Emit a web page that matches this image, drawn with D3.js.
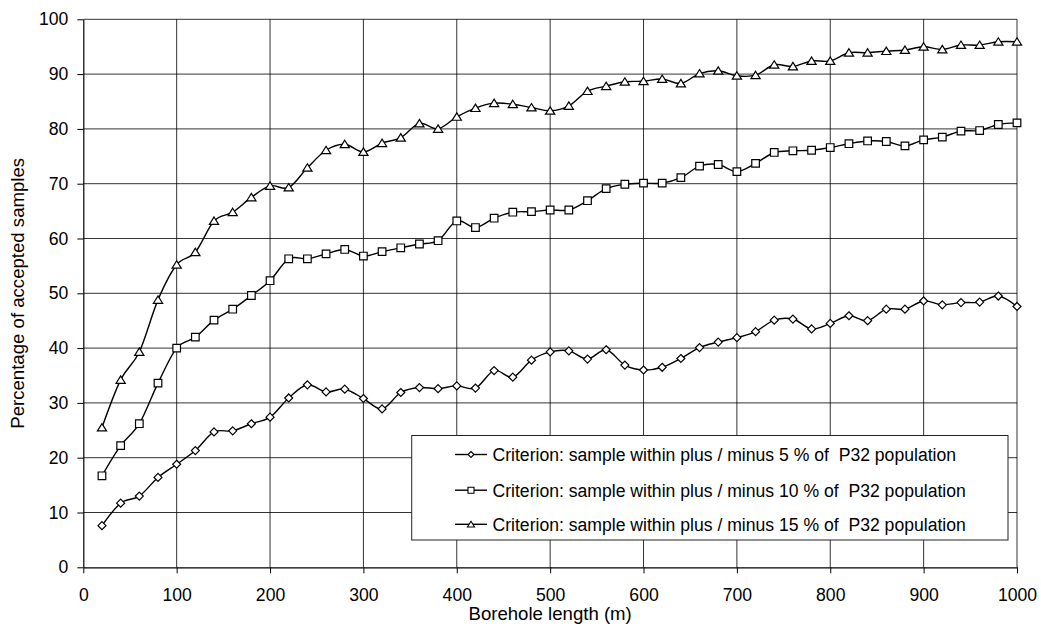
<!DOCTYPE html>
<html>
<head>
<meta charset="utf-8">
<script src="https://cdn.jsdelivr.net/npm/d3@7"></script>
<style>
  html, body { margin: 0; padding: 0; background: #fff; }
  svg { display: block; }
  text { font-family: "Liberation Sans", Arial, Helvetica, sans-serif; fill: #000; }
</style>
</head>
<body>
<svg id="chart" width="1041" height="626"></svg>
<script>
// Borehole lengths (m) at which acceptance was evaluated
const boreholeLength = [
  20, 40, 60, 80, 100, 120, 140, 160, 180, 200,
  220, 240, 260, 280, 300, 320, 340, 360, 380, 400,
  420, 440, 460, 480, 500, 520, 540, 560, 580, 600,
  620, 640, 660, 680, 700, 720, 740, 760, 780, 800,
  820, 840, 860, 880, 900, 920, 940, 960, 980, 1000
];

// Percentage of accepted samples, criterion +/- 5 %
const within5 = [
  7.6, 11.7, 13.0, 16.4, 18.8, 21.3, 24.7, 24.9, 26.2, 27.4,
  30.9, 33.3, 32.0, 32.5, 30.8, 28.9, 31.9, 32.8, 32.6, 33.1,
  32.7, 35.9, 34.7, 37.8, 39.3, 39.5, 38.0, 39.7, 36.9, 36.0,
  36.5, 38.1, 40.1, 41.1, 41.9, 43.0, 45.1, 45.3, 43.5, 44.5,
  45.9, 45.0, 47.1, 47.1, 48.6, 47.9, 48.3, 48.4, 49.5, 47.6
];

// Percentage of accepted samples, criterion +/- 10 %
const within10 = [
  16.7, 22.2, 26.2, 33.6, 40.0, 42.0, 45.1, 47.1, 49.6, 52.3,
  56.3, 56.3, 57.2, 58.0, 56.8, 57.6, 58.3, 59.0, 59.6, 63.2,
  62.0, 63.7, 64.8, 64.9, 65.2, 65.2, 66.9, 69.1, 69.9, 70.1,
  70.1, 71.1, 73.2, 73.5, 72.2, 73.7, 75.7, 76.0, 76.1, 76.6,
  77.3, 77.8, 77.7, 76.9, 78.0, 78.5, 79.6, 79.7, 80.8, 81.1
];

// Percentage of accepted samples, criterion +/- 15 %
const within15 = [
  25.5, 34.2, 39.3, 48.8, 55.2, 57.5, 63.2, 64.8, 67.5, 69.6,
  69.3, 72.9, 76.1, 77.2, 75.8, 77.4, 78.4, 81.0, 80.0, 82.2,
  83.8, 84.7, 84.5, 83.9, 83.3, 84.2, 86.9, 87.8, 88.6, 88.7,
  89.1, 88.3, 90.1, 90.6, 89.7, 89.8, 91.7, 91.4, 92.4, 92.4,
  93.9, 93.9, 94.2, 94.4, 95.0, 94.5, 95.3, 95.3, 95.9, 95.9
];

const seriesNames = [
  "Criterion: sample within plus / minus 5 % of  P32 population",
  "Criterion: sample within plus / minus 10 % of  P32 population",
  "Criterion: sample within plus / minus 15 % of  P32 population"
];
const seriesMarkers = ["diamond", "square", "triangle"];

const xTicks = [0, 100, 200, 300, 400, 500, 600, 700, 800, 900, 1000];
const yTicks = [0, 10, 20, 30, 40, 50, 60, 70, 80, 90, 100];

const xTitle = "Borehole length (m)";
const yTitle = "Percentage of accepted samples";

// ---- layout ----
const svg = d3.select("#chart");
const plot = { left: 83.3, right: 1017, top: 19.3, bottom: 567.3 };

const x = d3.scaleLinear().domain([0, 1000]).range([plot.left, plot.right]);
const y = d3.scaleLinear().domain([0, 100]).range([plot.bottom, plot.top]);

// grid lines
const grid = svg.append("g").attr("stroke", "#000").attr("stroke-width", 1);
grid.selectAll("line.h").data(yTicks.filter(d => d > 0)).join("line")
  .attr("class", "h")
  .attr("x1", plot.left).attr("x2", plot.right)
  .attr("y1", d => y(d)).attr("y2", d => y(d))
  .attr("stroke-opacity", 0.8);
grid.selectAll("line.v").data(xTicks.filter(d => d > 0)).join("line")
  .attr("class", "v")
  .attr("y1", plot.top).attr("y2", plot.bottom)
  .attr("x1", d => x(d)).attr("x2", d => x(d))
  .attr("stroke-opacity", 0.8);

// axes
const fontSize = 17.6;
const xAxis = svg.append("g")
  .attr("transform", `translate(0,${plot.bottom})`)
  .call(d3.axisBottom(x).tickValues(xTicks).tickSize(6).tickSizeOuter(0).tickPadding(15).tickFormat(d3.format("d")));
const yAxis = svg.append("g")
  .attr("transform", `translate(${plot.left},0)`)
  .call(d3.axisLeft(y).tickValues(yTicks).tickSize(6).tickSizeOuter(0).tickPadding(9).tickFormat(d3.format("d")));

[xAxis, yAxis].forEach(g => {
  g.select(".domain").attr("stroke", "#000").attr("stroke-width", 1.2);
  g.selectAll(".tick line").attr("stroke", "#000").attr("stroke-width", 1);
  g.selectAll(".tick text")
    .attr("fill", "#000")
    .style("font-family", "'Liberation Sans', Arial, sans-serif")
    .style("font-size", fontSize + "px");
});

// axis titles
svg.append("text")
  .attr("x", (plot.left + plot.right) / 2)
  .attr("y", 620)
  .attr("text-anchor", "middle")
  .style("font-size", "18.6px")
  .text(xTitle);

svg.append("text")
  .attr("transform", `translate(24,${(plot.top + plot.bottom) / 2}) rotate(-90)`)
  .attr("text-anchor", "middle")
  .style("font-size", "18.6px")
  .text(yTitle);

// marker shapes
function markerPath(type, s) {
  if (type === "diamond") return `M0,${-s}L${s},0L0,${s}L${-s},0Z`;
  if (type === "square") return `M${-s},${-s}H${s}V${s}H${-s}Z`;
  return `M0,${-s}L${s * 1.15},${s * 0.85}L${-s * 1.15},${s * 0.85}Z`;
}
const markerSize = { diamond: 4, square: 3.8, triangle: 4 };

const seriesValues = [within5, within10, within15];
const line = d3.line()
  .x(d => x(d[0]))
  .y(d => y(d[1]))
  .curve(d3.curveCatmullRom.alpha(0));

seriesValues.forEach((vals, i) => {
  const pts = boreholeLength.map((len, j) => [len, vals[j]]);
  const g = svg.append("g");
  g.append("path")
    .attr("d", line(pts))
    .attr("fill", "none")
    .attr("stroke", "#000")
    .attr("stroke-width", 1.4);
  const type = seriesMarkers[i];
  g.selectAll("path.m").data(pts).join("path")
    .attr("class", "m")
    .attr("transform", d => `translate(${x(d[0])},${y(d[1])})`)
    .attr("d", markerPath(type, markerSize[type]))
    .attr("fill", "#fff")
    .attr("stroke", "#000")
    .attr("stroke-width", 1.2);
});

// legend
const legend = { x: 411.7, y: 435.5, w: 596.3, h: 104.5 };
const lg = svg.append("g");
lg.append("rect")
  .attr("x", legend.x).attr("y", legend.y)
  .attr("width", legend.w).attr("height", legend.h)
  .attr("fill", "#fff").attr("stroke", "#222").attr("stroke-width", 1);

const rowY = [454.5, 490.2, 524.3];
const legendMarkerSize = { diamond: 3, square: 3, triangle: 3.1 };
seriesNames.forEach((name, i) => {
  const row = lg.append("g").attr("transform", `translate(0,${rowY[i]})`);
  row.append("line")
    .attr("x1", 455).attr("x2", 487).attr("y1", 0).attr("y2", 0)
    .attr("stroke", "#000").attr("stroke-width", 1.4);
  const type = seriesMarkers[i];
  row.append("path")
    .attr("transform", "translate(471,0)")
    .attr("d", markerPath(type, legendMarkerSize[type]))
    .attr("fill", "#fff").attr("stroke", "#000").attr("stroke-width", 1.1);
  row.append("text")
    .attr("x", 492.5).attr("y", 6.3)
    .style("font-size", fontSize + "px")
    .style("white-space", "pre")
    .attr("xml:space", "preserve")
    .text(name);
});
</script>
</body>
</html>
